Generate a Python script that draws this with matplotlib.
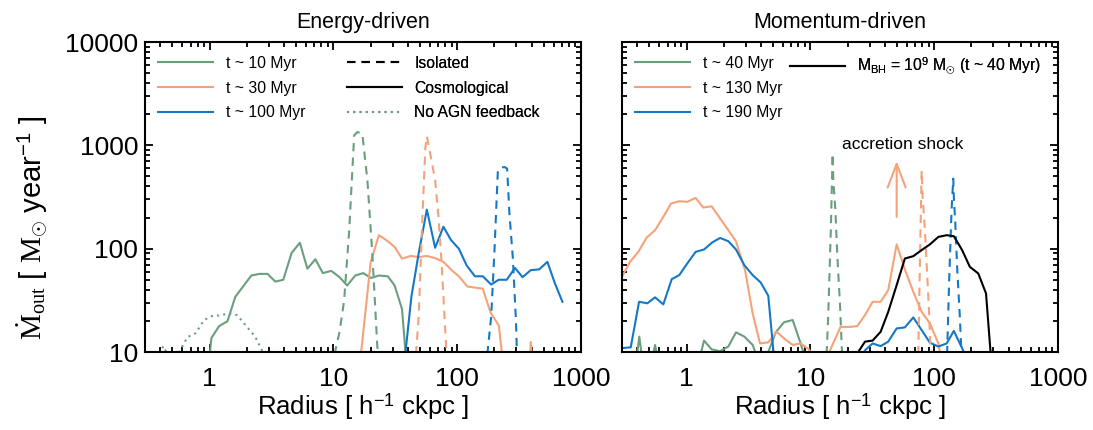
import matplotlib
matplotlib.use("Agg")
import matplotlib.pyplot as plt
from matplotlib.lines import Line2D
from matplotlib.ticker import FixedLocator, FixedFormatter, LogLocator, NullFormatter

plt.rcParams['font.family'] = ['Liberation Sans', 'DejaVu Sans']
plt.rcParams['mathtext.fontset'] = 'custom'
plt.rcParams['mathtext.rm'] = 'Liberation Serif'
plt.rcParams['mathtext.it'] = 'Liberation Serif:italic'
plt.rcParams['mathtext.sf'] = 'Liberation Sans'

GREEN = "#6a9f7d"
ORANGE = "#f5a27a"
BLUE = "#1578c6"

# ---- energy-driven panel (radius in h^-1 ckpc, outflow rate in Msun/yr) ----
e_r_10 = [0.97, 1.03, 1.19, 1.39, 1.61, 2.17, 2.53, 2.93, 3.39, 3.93, 4.59, 5.35, 6.16,
          7.14, 8.21, 9.59, 11.2, 12.9, 15.0, 17.4, 20.1, 23.3, 27.5, 31.2, 35.8, 39.5]
e_m_10 = [6, 13.6, 17.8, 19.8, 34.2, 55, 57, 57, 48, 50, 91, 114, 64,
          79, 58, 61, 53, 44, 55, 58, 52, 55, 54, 44, 26, 6]

e_r_30 = [16.0, 20.0, 23.3, 27.2, 31.2, 35.8, 41.9, 48.8, 56.8, 66.3, 77.3, 90.0, 103,
          121, 139, 161, 186, 217, 240, 380, 393, 410]
e_m_30 = [6, 74.5, 135, 119, 104, 80, 85, 83, 85, 81, 74.5, 62, 54,
          43, 42, 41, 24, 18, 6, 6, 12.5, 6]

e_r_100 = [38.2, 42.6, 48.8, 56.8, 66.3, 77.3, 89.1, 103, 119, 139, 161, 188, 216,
           251, 293, 337, 393, 459, 535, 616, 708]
e_m_100 = [10, 34.2, 90, 239, 102, 163, 121, 100, 69, 54, 54, 45, 50,
           50, 65, 53, 62, 63, 74.5, 46, 30.6]

e_iso_r_10 = [10.2, 11.2, 12.2, 13.4, 14.7, 15.6, 17.1, 18.8, 20.6, 22.6, 23.5]
e_iso_m_10 = [9.5, 15.7, 31.8, 151, 1250, 1344, 1297, 459, 90, 11.3, 8]

e_iso_r_30 = [46.4, 48.8, 51.8, 55.2, 56.8, 60.5, 66.3, 70.5, 74.8, 79.7, 82.1]
e_iso_m_30 = [9.5, 21.9, 151, 929, 1222, 832, 459, 203, 72, 17.5, 9.5]

e_iso_r_100 = [175, 188, 200, 213, 226, 241, 253, 264, 281, 298, 304]
e_iso_m_100 = [9.5, 21.9, 97, 573, 609, 617, 595, 219, 83, 20.4, 9.5]

e_noagn_r = [0.40, 0.42, 0.47, 0.57, 0.66, 0.77, 0.90, 1.05, 1.22, 1.43, 1.67, 2.0, 2.33, 2.64, 2.8]
e_noagn_m = [9.5, 11.4, 9, 10.1, 13.9, 15.2, 20.4, 22.3, 22.6, 23.7, 22.7, 17.5, 14.1, 10.4, 8]

# ---- momentum-driven panel ----
m_r_40 = [0.30, 0.39, 0.414, 0.44, 0.52, 0.555, 0.59, 1.25, 1.38, 1.59, 1.86, 2.17,
          2.50, 2.92, 3.41, 3.7, 4.4, 4.56, 5.24, 6.11, 7.18, 8.33, 8.75, 9.5]
m_m_40 = [8, 8, 14.1, 8, 8, 11.7, 8, 8, 12.9, 10.6, 10.2, 11.3,
          15.5, 14.1, 11.7, 9, 9, 10, 15.5, 19.4, 20.4, 12.1, 10, 8]

m_r_130 = [0.30, 0.348, 0.406, 0.475, 0.555, 0.647, 0.746, 0.871, 1.01, 1.18,
           1.36, 1.59, 1.86, 2.17, 2.50, 2.96, 3.41, 3.91, 4.56, 5.33,
           6.22, 7.18, 8.33, 9.72, 11.5, 14.2, 17.5, 20.6, 23.9, 27.6,
           31.8, 36.9, 42.5, 49.7, 57.9, 67.7, 79.1, 92.3, 108, 111, 115]
m_m_130 = [53.5, 74.5, 93, 128, 151, 203, 273, 288, 284, 310,
           250, 257, 196, 151, 118, 62, 23.7, 12.1, 12.4, 15.7,
           13.3, 11.7, 12.1, 10.6, 7, 10, 17.5, 17.5, 17.8, 22.8,
           30.6, 30.6, 39.7, 110, 63, 38.3, 24.5, 18.9, 12.1, 10, 8]

m_r_190 = [0.30, 0.353, 0.412, 0.481, 0.555, 0.647, 0.757, 0.871, 1.01, 1.18,
           1.38, 1.61, 1.86, 2.17, 2.50, 2.92, 3.41, 3.96, 4.56, 5.01,
           5.3, 26, 27.6, 31.8, 36.9, 42.5, 49.7, 57.9, 67.7, 79.1,
           92.3, 108, 126, 144, 171, 180]
m_m_190 = [10.9, 11.1, 30.6, 29.6, 33.8, 28.9, 50.7, 55.5, 71.9, 93.1,
           98.2, 115, 127, 118, 98.2, 69.3, 55.5, 47.1, 35, 10.4,
           7, 7, 10.4, 12.1, 11.4, 12.6, 16.9, 17.3, 21.6, 16.3,
           12.3, 11.3, 12.1, 16, 10.4, 8]

m_bh_r = [22, 24.3, 27.6, 31.8, 36.9, 42.5, 49.7, 57.9, 67.7, 79.1,
          92.3, 108, 126, 144, 168, 194, 227, 262, 285, 295]
m_bh_m = [8, 10, 12.6, 12.9, 15.7, 24.5, 44.4, 80.3, 84.6, 96.9,
          110, 130, 135, 132, 96.9, 66.7, 57.5, 36.9, 10, 7]

m_iso_r_40 = [13.5, 13.9, 14.6, 15.1, 15.3, 15.9, 16.5, 17.3, 18.0]
m_iso_m_40 = [9.5, 21.9, 151, 832, 459, 235, 83, 29.6, 9.5]

m_iso_r_130 = [74.3, 76.6, 79.1, 80.6, 84.1, 86.8, 91.2, 93.5]
m_iso_m_130 = [9.5, 72, 573, 316, 151, 72, 21.9, 9.5]

m_iso_r_190 = [127, 132, 138, 142.5, 144, 148, 153.5, 161, 166]
m_iso_m_190 = [9.5, 49.6, 235, 476, 316, 175, 62, 21.9, 9.5]

x_ticks = [1, 10, 100, 1000]
x_tick_labels = ["1", "10", "100", "1000"]
y_ticks = [10, 100, 1000, 10000]
y_tick_labels = ["10", "100", "1000", "10000"]

LW = 1.5
DASH = (0, (4, 3))
DOT = (0, (1, 2))


def style_axes(ax, show_ylabels):
    ax.set_xscale('log')
    ax.set_yscale('log')
    ax.set_xlim(0.3, 1000)
    ax.set_ylim(10, 10000)
    ax.xaxis.set_major_locator(FixedLocator(x_ticks))
    ax.xaxis.set_major_formatter(FixedFormatter(x_tick_labels))
    ax.xaxis.set_minor_locator(LogLocator(base=10, subs=range(2, 10)))
    ax.xaxis.set_minor_formatter(NullFormatter())
    ax.yaxis.set_major_locator(FixedLocator(y_ticks))
    ax.yaxis.set_major_formatter(FixedFormatter(y_tick_labels))
    ax.yaxis.set_minor_locator(LogLocator(base=10, subs=range(2, 10)))
    ax.yaxis.set_minor_formatter(NullFormatter())
    ax.tick_params(which='both', direction='in', top=True, right=True, width=1.3)
    ax.tick_params(which='major', length=6)
    ax.tick_params(which='minor', length=3.5)
    ax.tick_params(axis='x', labelsize=19, pad=11)
    ax.tick_params(axis='y', labelsize=19, pad=5, labelleft=show_ylabels)
    for s in ax.spines.values():
        s.set_linewidth(1.5)
    ax.set_xlabel(r'Radius [ h$^{\mathsf{-1}}$ ckpc ]', fontsize=18.5, labelpad=0)


def add_column_legend(ax, handles, labels, x):
    leg = ax.legend(handles, labels, loc='upper left', bbox_to_anchor=(x, 0.955),
                    frameon=False, fontsize=11.3, handlelength=3.5, handletextpad=0.8,
                    labelspacing=0.62, borderpad=0, borderaxespad=0)
    ax.add_artist(leg)


fig = plt.figure(figsize=(10.93, 4.3), dpi=100)
ax1 = fig.add_axes([145 / 1093, 78 / 430, 436 / 1093, 310 / 430])
ax2 = fig.add_axes([622 / 1093, 78 / 430, 436 / 1093, 310 / 430])

# energy-driven
ax1.plot(e_noagn_r, e_noagn_m, color=GREEN, lw=LW, ls=DOT)
ax1.plot(e_r_10, e_m_10, color=GREEN, lw=LW)
ax1.plot(e_r_30, e_m_30, color=ORANGE, lw=LW)
ax1.plot(e_r_100, e_m_100, color=BLUE, lw=LW)
ax1.plot(e_iso_r_10, e_iso_m_10, color=GREEN, lw=LW, ls=DASH)
ax1.plot(e_iso_r_30, e_iso_m_30, color=ORANGE, lw=LW, ls=DASH)
ax1.plot(e_iso_r_100, e_iso_m_100, color=BLUE, lw=LW, ls=DASH)
style_axes(ax1, True)
ax1.set_title('Energy-driven', fontsize=15.5, pad=10)
ax1.set_ylabel(r'$\dot{\rm M}_{\rm out}$ [ $\rm M_{\odot}$ year$^{\mathsf{-1}}$ ]',
               fontsize=21)
ax1.yaxis.set_label_coords(-0.218, 0.40)

add_column_legend(ax1,
                  [Line2D([], [], color=c, lw=LW) for c in (GREEN, ORANGE, BLUE)],
                  ['t ~ 10 Myr', 't ~ 30 Myr', 't ~ 100 Myr'], 0.03)
add_column_legend(ax1,
                  [Line2D([], [], color='black', lw=LW, ls=DASH),
                   Line2D([], [], color='black', lw=LW),
                   Line2D([], [], color=GREEN, lw=LW, ls=DOT)],
                  ['Isolated', 'Cosmological', 'No AGN feedback'], 0.463)

# momentum-driven
ax2.plot(m_r_40, m_m_40, color=GREEN, lw=LW)
ax2.plot(m_r_130, m_m_130, color=ORANGE, lw=LW)
ax2.plot(m_r_190, m_m_190, color=BLUE, lw=LW)
ax2.plot(m_iso_r_40, m_iso_m_40, color=GREEN, lw=LW, ls=DASH)
ax2.plot(m_iso_r_130, m_iso_m_130, color=ORANGE, lw=LW, ls=DASH)
ax2.plot(m_iso_r_190, m_iso_m_190, color=BLUE, lw=LW, ls=DASH)
ax2.plot(m_bh_r, m_bh_m, color='black', lw=LW)
style_axes(ax2, False)
ax2.set_title('Momentum-driven', fontsize=15.5, pad=10)

add_column_legend(ax2,
                  [Line2D([], [], color=c, lw=LW) for c in (GREEN, ORANGE, BLUE)],
                  ['t ~ 40 Myr', 't ~ 130 Myr', 't ~ 190 Myr'], 0.03)
add_column_legend(ax2,
                  [Line2D([], [], color='black', lw=LW)],
                  [r'M$_{\mathsf{BH}}$ = 10$^{\mathsf{9}}$ M$_{\odot}$ (t ~ 40 Myr)'], 0.385)

ax2.annotate('', xy=(49.7, 705), xytext=(49.7, 203),
             arrowprops=dict(arrowstyle='->,head_length=1.7,head_width=0.65',
                             color=ORANGE, lw=LW, shrinkA=0, shrinkB=0, mutation_scale=10))
ax2.text(55.9, 1024, 'accretion shock', fontsize=12.5, ha='center', va='center')

fig.savefig('out.png', dpi=100)
